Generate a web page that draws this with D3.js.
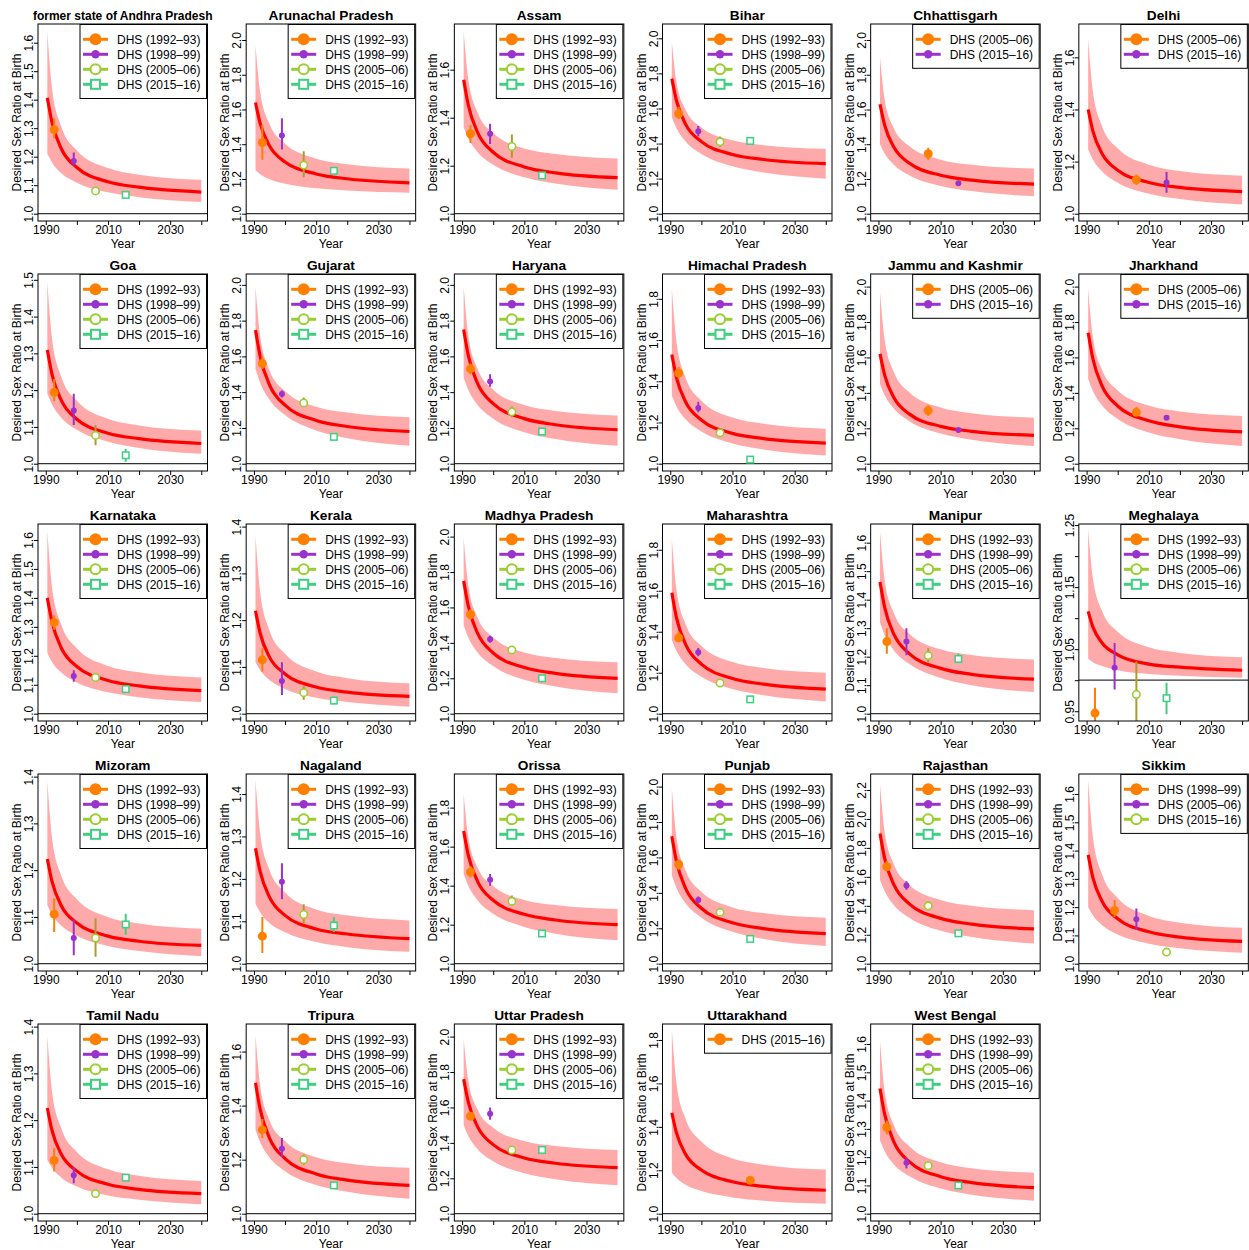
<!DOCTYPE html>
<html>
<head>
<meta charset="utf-8">
<script src="https://cdn.jsdelivr.net/npm/d3@7"></script>
<style>
  body { margin: 0; background: #fff; }
  svg text { font-family: "Liberation Sans", Arial, Helvetica, sans-serif; }
</style>
</head>
<body>
<div id="chart"></div>
<script>
// years at which the fitted curve and its band are read
const curveYears = [1990.5, 1992, 1995, 2000, 2010, 2020, 2040];
const xTicks = [1990, 2000, 2010, 2020, 2030, 2040];
const xTickLabels = ['1990', '', '2010', '', '2030', ''];

const states = [
    'former state of Andhra Pradesh', 'Arunachal Pradesh', 'Assam', 'Bihar', 'Chhattisgarh', 'Delhi',
    'Goa', 'Gujarat', 'Haryana', 'Himachal Pradesh', 'Jammu and Kashmir', 'Jharkhand',
    'Karnataka', 'Kerala', 'Madhya Pradesh', 'Maharashtra', 'Manipur', 'Meghalaya',
    'Mizoram', 'Nagaland', 'Orissa', 'Punjab', 'Rajasthan', 'Sikkim',
    'Tamil Nadu', 'Tripura', 'Uttar Pradesh', 'Uttarakhand', 'West Bengal'
];

const yLimits = [
    [1.0, 1.64], [1.0, 2.05], [1.0, 1.76], [1.0, 2.04], [1.0, 2.05], [1.0, 1.70],
    [1.0, 1.496], [1.0, 2.02], [1.0, 2.02], [1.0, 1.885], [1.0, 2.03], [1.0, 2.03],
    [1.0, 1.63], [1.0, 1.39], [1.0, 2.03], [1.0, 1.89], [1.0, 1.64], [0.946, 1.24],
    [1.0, 1.39], [1.0, 1.43], [1.0, 1.935], [1.0, 2.03], [1.0, 2.26], [1.0, 1.645],
    [1.0, 1.39], [1.0, 1.675], [1.0, 2.03], [1.0, 1.84], [1.0, 1.645]
];

const ticksTenth6 = ['1.0', '1.1', '1.2', '1.3', '1.4', '1.5', '1.6'];
const ticksFifth10 = ['1.0', '1.2', '1.4', '1.6', '1.8', '2.0'];
const ticksTenth4 = ['1.0', '1.1', '1.2', '1.3', '1.4'];
const ticksFifth8 = ['1.0', '1.2', '1.4', '1.6', '1.8'];
const ticksFifth6 = ['1.0', '1.2', '1.4', '1.6'];
const yTickLabels = [
    ticksTenth6, ticksFifth10, ticksFifth6, ticksFifth10, ticksFifth10, ticksFifth6,
    ['1.0', '1.1', '1.2', '1.3', '1.4', '1.5'], ticksFifth10, ticksFifth10, ticksFifth8, ticksFifth10, ticksFifth10,
    ticksTenth6, ticksTenth4, ticksFifth10, ticksFifth8, ticksTenth6, ['0.95', '1.05', '1.15', '1.25'],
    ticksTenth4, ticksTenth4, ticksFifth8, ticksFifth10, ['1.0', '1.2', '1.4', '1.6', '1.8', '2.0', '2.2'], ticksTenth6,
    ticksTenth4, ticksFifth6, ticksFifth10, ticksFifth8, ticksTenth6
];
// unlabelled ticks (only Meghalaya has them)
const yMinorTicks = states.map((s, i) => i === 17 ? [1.0, 1.1, 1.2] : []);

const medianCurves = [
    [1.407, 1.321, 1.228, 1.162, 1.112, 1.093, 1.076],
    [1.64, 1.520, 1.391, 1.298, 1.229, 1.201, 1.178],
    [1.558, 1.452, 1.338, 1.256, 1.195, 1.170, 1.15],
    [1.77, 1.644, 1.508, 1.411, 1.338, 1.309, 1.285],
    [1.63, 1.510, 1.382, 1.290, 1.221, 1.193, 1.17],
    [1.40, 1.318, 1.230, 1.167, 1.120, 1.101, 1.085],
    [1.309, 1.243, 1.172, 1.121, 1.083, 1.068, 1.055],
    [1.747, 1.600, 1.441, 1.327, 1.242, 1.208, 1.18],
    [1.75, 1.604, 1.448, 1.336, 1.252, 1.218, 1.19],
    [1.53, 1.418, 1.298, 1.212, 1.147, 1.122, 1.10],
    [1.62, 1.500, 1.372, 1.280, 1.211, 1.183, 1.16],
    [1.74, 1.594, 1.438, 1.326, 1.242, 1.208, 1.18],
    [1.40, 1.317, 1.227, 1.163, 1.115, 1.096, 1.08],
    [1.22, 1.172, 1.121, 1.085, 1.057, 1.046, 1.037],
    [1.75, 1.607, 1.453, 1.343, 1.261, 1.228, 1.20],
    [1.59, 1.468, 1.336, 1.242, 1.172, 1.144, 1.12],
    [1.462, 1.373, 1.278, 1.210, 1.159, 1.138, 1.121],
    [1.111, 1.086, 1.060, 1.041, 1.026, 1.021, 1.016],
    [1.224, 1.176, 1.124, 1.087, 1.059, 1.048, 1.039],
    [1.272, 1.217, 1.157, 1.114, 1.082, 1.070, 1.059],
    [1.68, 1.555, 1.421, 1.325, 1.253, 1.224, 1.20],
    [1.72, 1.577, 1.423, 1.313, 1.231, 1.198, 1.17],
    [1.90, 1.728, 1.544, 1.412, 1.313, 1.273, 1.24],
    [1.385, 1.305, 1.220, 1.159, 1.113, 1.094, 1.079],
    [1.226, 1.178, 1.127, 1.091, 1.063, 1.052, 1.043],
    [1.485, 1.386, 1.280, 1.204, 1.147, 1.124, 1.105],
    [1.76, 1.63, 1.49, 1.39, 1.315, 1.285, 1.26],
    [1.465, 1.372, 1.272, 1.201, 1.147, 1.126, 1.108],
    [1.443, 1.352, 1.253, 1.183, 1.131, 1.110, 1.092]
];

const upperCurves = [
    [1.636, 1.440, 1.305, 1.222, 1.160, 1.137, 1.119],
    [1.97, 1.700, 1.516, 1.402, 1.317, 1.285, 1.26],
    [1.76, 1.559, 1.421, 1.336, 1.272, 1.249, 1.23],
    [1.98, 1.748, 1.590, 1.492, 1.419, 1.391, 1.37],
    [1.90, 1.657, 1.490, 1.388, 1.311, 1.282, 1.26],
    [1.67, 1.471, 1.335, 1.251, 1.188, 1.164, 1.146],
    [1.495, 1.341, 1.236, 1.171, 1.122, 1.104, 1.09],
    [1.99, 1.713, 1.523, 1.406, 1.318, 1.286, 1.26],
    [1.99, 1.716, 1.529, 1.414, 1.328, 1.295, 1.27],
    [1.85, 1.592, 1.415, 1.306, 1.224, 1.194, 1.17],
    [1.97, 1.700, 1.516, 1.402, 1.317, 1.285, 1.26],
    [1.99, 1.716, 1.529, 1.414, 1.328, 1.295, 1.27],
    [1.63, 1.438, 1.307, 1.226, 1.165, 1.143, 1.125],
    [1.38, 1.260, 1.178, 1.128, 1.090, 1.076, 1.065],
    [1.99, 1.724, 1.542, 1.430, 1.346, 1.315, 1.29],
    [1.85, 1.603, 1.434, 1.330, 1.252, 1.223, 1.20],
    [1.64, 1.469, 1.352, 1.280, 1.226, 1.206, 1.19],
    [1.243, 1.165, 1.111, 1.078, 1.053, 1.044, 1.037],
    [1.39, 1.270, 1.188, 1.138, 1.100, 1.086, 1.075],
    [1.433, 1.307, 1.221, 1.168, 1.128, 1.114, 1.102],
    [1.87, 1.646, 1.492, 1.398, 1.327, 1.301, 1.28],
    [1.99, 1.713, 1.523, 1.406, 1.318, 1.286, 1.26],
    [2.24, 1.909, 1.683, 1.544, 1.440, 1.400, 1.37],
    [1.65, 1.451, 1.315, 1.232, 1.169, 1.145, 1.127],
    [1.38, 1.262, 1.182, 1.132, 1.095, 1.081, 1.07],
    [1.66, 1.474, 1.346, 1.268, 1.209, 1.187, 1.17],
    [1.99, 1.751, 1.587, 1.486, 1.410, 1.382, 1.36],
    [1.846, 1.602, 1.434, 1.332, 1.254, 1.226, 1.203],
    [1.61, 1.433, 1.312, 1.238, 1.182, 1.161, 1.145]
];

const lowerCurves = [
    [1.21, 1.180, 1.142, 1.109, 1.075, 1.058, 1.041],
    [1.25, 1.227, 1.198, 1.172, 1.146, 1.133, 1.12],
    [1.36, 1.313, 1.256, 1.204, 1.152, 1.126, 1.10],
    [1.55, 1.487, 1.41, 1.34, 1.27, 1.235, 1.20],
    [1.40, 1.346, 1.28, 1.22, 1.16, 1.13, 1.10],
    [1.246, 1.208, 1.162, 1.119, 1.077, 1.056, 1.035],
    [1.19, 1.161, 1.125, 1.092, 1.060, 1.043, 1.027],
    [1.53, 1.453, 1.358, 1.272, 1.186, 1.143, 1.10],
    [1.48, 1.412, 1.328, 1.252, 1.176, 1.138, 1.10],
    [1.33, 1.278, 1.214, 1.156, 1.098, 1.069, 1.04],
    [1.45, 1.387, 1.31, 1.24, 1.17, 1.135, 1.10],
    [1.48, 1.412, 1.328, 1.252, 1.176, 1.138, 1.10],
    [1.21, 1.179, 1.142, 1.108, 1.074, 1.057, 1.04],
    [1.11, 1.093, 1.072, 1.053, 1.034, 1.025, 1.015],
    [1.50, 1.431, 1.346, 1.269, 1.192, 1.154, 1.115],
    [1.36, 1.306, 1.24, 1.18, 1.12, 1.09, 1.06],
    [1.32, 1.276, 1.222, 1.174, 1.125, 1.100, 1.076],
    [1.035, 1.029, 1.023, 1.016, 1.010, 1.007, 1.004],
    [1.125, 1.105, 1.081, 1.060, 1.038, 1.027, 1.016],
    [1.142, 1.121, 1.096, 1.074, 1.051, 1.039, 1.028],
    [1.46, 1.399, 1.324, 1.256, 1.188, 1.154, 1.12],
    [1.50, 1.428, 1.34, 1.26, 1.18, 1.14, 1.10],
    [1.58, 1.501, 1.404, 1.316, 1.228, 1.184, 1.14],
    [1.20, 1.171, 1.136, 1.103, 1.071, 1.055, 1.039],
    [1.115, 1.098, 1.077, 1.058, 1.039, 1.030, 1.02],
    [1.31, 1.264, 1.208, 1.157, 1.106, 1.081, 1.055],
    [1.50, 1.439, 1.364, 1.296, 1.228, 1.194, 1.16],
    [1.19, 1.164, 1.132, 1.104, 1.075, 1.060, 1.046],
    [1.26, 1.221, 1.174, 1.132, 1.089, 1.067, 1.046]
];

// survey rounds and the year each is plotted at
const surveyNames = ['1992–93', '1998–99', '2005–06', '2015–16'];
const surveyMidYears = [1992.7, 1999.0, 2006.0, 2015.7];

const allRounds = ['1992–93', '1998–99', '2005–06', '2015–16'];
const lastTwo = ['2005–06', '2015–16'];
const panelSurveys = [
    allRounds, allRounds, allRounds, allRounds, lastTwo, lastTwo,
    allRounds, allRounds, allRounds, allRounds, lastTwo, lastTwo,
    allRounds, allRounds, allRounds, allRounds, allRounds, allRounds,
    allRounds, allRounds, allRounds, allRounds, allRounds, ['1998–99', '2005–06', '2015–16'],
    allRounds, allRounds, allRounds, ['2015–16'], allRounds
];

// [estimate, lower, upper] for each survey shown in a panel
const surveyEstimates = [
    [[1.295, 1.265, 1.335], [1.185, 1.17, 1.215], [1.08, 1.07, 1.09], [1.066, 1.062, 1.07]],
    [[1.41, 1.31, 1.51], [1.45, 1.37, 1.55], [1.28, 1.21, 1.36], [1.247, 1.24, 1.255]],
    [[1.333, 1.295, 1.37], [1.333, 1.29, 1.375], [1.28, 1.233, 1.33], [1.16, 1.155, 1.165]],
    [[1.57, 1.54, 1.61], [1.47, 1.44, 1.5], [1.41, 1.38, 1.44], [1.415, 1.405, 1.425]],
    [[1.345, 1.31, 1.38], [1.175, 1.165, 1.185]],
    [[1.13, 1.11, 1.15], [1.12, 1.08, 1.16]],
    [[1.194, 1.17, 1.23], [1.145, 1.105, 1.19], [1.077, 1.05, 1.105], [1.023, 1.005, 1.04]],
    [[1.56, 1.53, 1.6], [1.39, 1.37, 1.41], [1.34, 1.32, 1.37], [1.15, 1.145, 1.16]],
    [[1.53, 1.5, 1.56], [1.46, 1.43, 1.5], [1.29, 1.26, 1.32], [1.18, 1.175, 1.19]],
    [[1.44, 1.41, 1.47], [1.27, 1.25, 1.3], [1.15, 1.14, 1.16], [1.02, 1.015, 1.025]],
    [[1.3, 1.27, 1.33], [1.19, 1.18, 1.2]],
    [[1.29, 1.27, 1.32], [1.26, 1.25, 1.27]],
    [[1.315, 1.29, 1.34], [1.13, 1.11, 1.15], [1.125, 1.115, 1.135], [1.085, 1.08, 1.09]],
    [[1.115, 1.09, 1.14], [1.07, 1.04, 1.11], [1.045, 1.03, 1.06], [1.028, 1.02, 1.036]],
    [[1.56, 1.53, 1.59], [1.42, 1.4, 1.44], [1.36, 1.34, 1.38], [1.2, 1.195, 1.205]],
    [[1.37, 1.35, 1.4], [1.3, 1.28, 1.32], [1.15, 1.14, 1.16], [1.07, 1.065, 1.075]],
    [[1.253, 1.21, 1.3], [1.253, 1.205, 1.3], [1.204, 1.18, 1.23], [1.192, 1.18, 1.21]],
    [[0.947, 0.92, 0.988], [1.02, 0.985, 1.06], [0.977, 0.92, 1.03], [0.971, 0.945, 0.996]],
    [[1.106, 1.068, 1.14], [1.055, 1.018, 1.095], [1.055, 1.015, 1.097], [1.084, 1.062, 1.107]],
    [[1.065, 1.025, 1.11], [1.193, 1.152, 1.237], [1.116, 1.095, 1.14], [1.09, 1.075, 1.11]],
    [[1.47, 1.44, 1.5], [1.43, 1.4, 1.46], [1.32, 1.3, 1.35], [1.155, 1.15, 1.16]],
    [[1.56, 1.53, 1.59], [1.36, 1.34, 1.38], [1.29, 1.27, 1.31], [1.14, 1.135, 1.145]],
    [[1.67, 1.64, 1.71], [1.54, 1.51, 1.57], [1.4, 1.37, 1.43], [1.21, 1.205, 1.215]],
    [[1.188, 1.165, 1.225], [1.157, 1.12, 1.195], [1.041, 1.038, 1.044]],
    [[1.114, 1.09, 1.14], [1.082, 1.065, 1.1], [1.043, 1.035, 1.052], [1.077, 1.07, 1.085]],
    [[1.31, 1.28, 1.35], [1.24, 1.21, 1.28], [1.2, 1.18, 1.22], [1.105, 1.1, 1.11]],
    [[1.55, 1.53, 1.57], [1.565, 1.53, 1.6], [1.36, 1.355, 1.365], [1.36, 1.35, 1.37]],
    [[1.154, 1.15, 1.158]],
    [[1.305, 1.28, 1.33], [1.18, 1.16, 1.2], [1.17, 1.16, 1.18], [1.1, 1.095, 1.105]]
];

// marker style by position in the legend
const markerColors = ['#ff8000', '#9a32cd', '#9acd32', '#3ecf80'];
const barColors = ['#ff8000', '#9a32cd', '#b09a2c', '#3ecf80'];

const width = 1249;
const height = 1250;
const colW = width / 6;
const rowH = 250;
const plot = { left: 38, right: 207.5, top: 24, bottom: 221 };

const svg = d3.select('#chart')
    .append('svg')
    .attr('width', width)
    .attr('height', height);

const x = d3.scaleLinear().domain([1987.5, 2042]).range([plot.left, plot.right]);

function drawMarker(sel, k, cx, cy, big) {
    const c = markerColors[k];
    if (k === 0) {
        sel.append('circle').attr('cx', cx).attr('cy', cy).attr('r', big ? 6 : 4.5).attr('fill', c);
    } else if (k === 1) {
        sel.append('circle').attr('cx', cx).attr('cy', cy).attr('r', big ? 4.2 : 3).attr('fill', c);
    } else if (k === 2) {
        sel.append('circle').attr('cx', cx).attr('cy', cy).attr('r', big ? 5 : 3.7)
            .attr('fill', '#fff').attr('stroke', c).attr('stroke-width', big ? 2 : 1.6);
    } else {
        const s = big ? 9 : 6.5;
        sel.append('rect').attr('x', cx - s / 2).attr('y', cy - s / 2).attr('width', s).attr('height', s)
            .attr('fill', '#fff').attr('stroke', c).attr('stroke-width', big ? 2 : 1.5);
    }
}

states.forEach((name, i) => {
    const col = i % 6;
    const row = Math.floor(i / 6);
    const g = svg.append('g').attr('transform', `translate(${col * colW},${row * rowH})`);

    const [lo, hi] = yLimits[i];
    const pad = (hi - lo) * 0.04;
    const y = d3.scaleLinear().domain([lo - pad, hi + pad]).range([plot.bottom, plot.top]);

    g.append('clipPath').attr('id', 'clip' + i)
        .append('rect')
        .attr('x', plot.left).attr('y', plot.top)
        .attr('width', plot.right - plot.left).attr('height', plot.bottom - plot.top);
    const inner = g.append('g').attr('clip-path', `url(#clip${i})`);

    const rows = curveYears.map((yr, j) => ({
        yr: yr, mid: medianCurves[i][j], up: upperCurves[i][j], low: lowerCurves[i][j]
    }));

    // uncertainty band
    inner.append('path')
        .datum(rows)
        .attr('d', d3.area().x(d => x(d.yr)).y0(d => y(d.low)).y1(d => y(d.up)).curve(d3.curveMonotoneX))
        .attr('fill', '#ffaaaa');

    // fitted curve
    inner.append('path')
        .datum(rows)
        .attr('d', d3.line().x(d => x(d.yr)).y(d => y(d.mid)).curve(d3.curveMonotoneX))
        .attr('fill', 'none')
        .attr('stroke', '#ff0000')
        .attr('stroke-width', 3.2);

    // reference line at 1
    inner.append('line')
        .attr('x1', plot.left).attr('x2', plot.right)
        .attr('y1', y(1)).attr('y2', y(1))
        .attr('stroke', '#333').attr('stroke-width', 1.2);

    // survey estimates
    panelSurveys[i].forEach((s, k) => {
        const yr = surveyMidYears[surveyNames.indexOf(s)];
        const [est, l, u] = surveyEstimates[i][k];
        inner.append('line')
            .attr('x1', x(yr)).attr('x2', x(yr))
            .attr('y1', y(l)).attr('y2', y(u))
            .attr('stroke', barColors[k]).attr('stroke-width', 2);
        drawMarker(inner, k, x(yr), y(est), false);
    });

    // axes
    const xAxis = d3.axisBottom(x).tickValues(xTicks).tickSize(4)
        .tickFormat((d, j) => xTickLabels[j]);
    const gx = g.append('g').attr('transform', `translate(0,${plot.bottom})`).call(xAxis);
    gx.select('.domain').remove();
    gx.selectAll('text').attr('font-size', 12).attr('fill', '#000').attr('y', 4.5).attr('dy', '0.71em');

    const yVals = yTickLabels[i].map(Number).concat(yMinorTicks[i]);
    const yAxis = d3.axisLeft(y).tickValues(yVals).tickSize(4)
        .tickFormat(d => {
            const lab = yTickLabels[i].find(t => Math.abs(+t - d) < 1e-9);
            return lab || '';
        });
    const gy = g.append('g').attr('transform', `translate(${plot.left},0)`).call(yAxis);
    gy.select('.domain').remove();
    gy.selectAll('text')
        .attr('font-size', 12).attr('fill', '#000')
        .attr('x', 0).attr('y', 0).attr('dy', 0)
        .attr('text-anchor', 'middle')
        .attr('transform', 'translate(-5,0) rotate(-90)');

    // box
    g.append('rect')
        .attr('x', plot.left).attr('y', plot.top)
        .attr('width', plot.right - plot.left).attr('height', plot.bottom - plot.top)
        .attr('fill', 'none').attr('stroke', '#000').attr('stroke-width', 1);

    // titles
    g.append('text')
        .attr('x', (plot.left + plot.right) / 2).attr('y', 19.5)
        .attr('text-anchor', 'middle')
        .attr('font-size', i === 0 ? 12 : 13.7).attr('font-weight', 'bold')
        .text(name);
    g.append('text')
        .attr('x', (plot.left + plot.right) / 2).attr('y', 247.5)
        .attr('text-anchor', 'middle').attr('font-size', 12)
        .text('Year');
    g.append('text')
        .attr('transform', `translate(21,${(plot.top + plot.bottom) / 2}) rotate(-90)`)
        .attr('text-anchor', 'middle').attr('font-size', 12)
        .text('Desired Sex Ratio at Birth');

    // legend
    const n = panelSurveys[i].length;
    const lg = g.append('g').attr('transform', `translate(80,${plot.top + 0.5})`);
    lg.append('rect')
        .attr('width', plot.right - 80 - 1).attr('height', 13.6 + 15.1 * n)
        .attr('fill', '#fff').attr('stroke', '#000').attr('stroke-width', 1);
    panelSurveys[i].forEach((s, k) => {
        const cy = 14.8 + 15 * k;
        lg.append('line')
            .attr('x1', 3).attr('x2', 28).attr('y1', cy).attr('y2', cy)
            .attr('stroke', markerColors[k]).attr('stroke-width', 3);
        drawMarker(lg, k, 15.5, cy, true);
        lg.append('text')
            .attr('x', 37).attr('y', cy).attr('dy', '0.36em')
            .attr('font-size', 12)
            .text(`DHS (${s})`);
    });
});
</script>
</body>
</html>
